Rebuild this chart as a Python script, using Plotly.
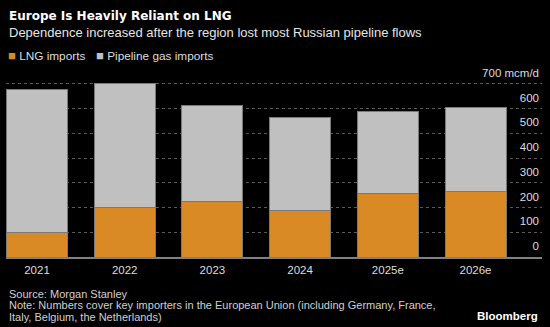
import plotly.graph_objects as go

years = ["2021", "2022", "2023", "2024", "2025e", "2026e"]
lng_imports = [101, 202, 224, 190, 255, 267]
pipeline_imports = [575, 500, 387, 375, 334, 336]
y_tick_values = [0, 100, 200, 300, 400, 500, 600, 700]
y_tick_labels = ["0", "100", "200", "300", "400", "500", "600", "700 mcm/d"]

LNG_COLOR = "#DA8A25"
PIPE_COLOR = "#C0C0C0"
EDGE = "#7a7a7a"
FONT = "Liberation Sans"

W, H = 550, 327
ML, MR, MT, MB = 6, 8, 64, 70
plot_h = H - MT - MB
plot_w = W - ML - MR

def py(px):
    # pixel row -> paper y coordinate
    return (H - MB - px) / plot_h

def pxx(px):
    return (px - ML) / plot_w

fig = go.Figure()
fig.add_trace(go.Bar(x=years, y=lng_imports, name="LNG imports",
                     marker=dict(color=LNG_COLOR, line=dict(color=EDGE, width=1)),
                     showlegend=False))
fig.add_trace(go.Bar(x=years, y=pipeline_imports, name="Pipeline gas imports",
                     marker=dict(color=PIPE_COLOR, line=dict(color=EDGE, width=1)),
                     showlegend=False))

fig.update_layout(
    width=W, height=H,
    barmode="stack", bargap=0.304,
    paper_bgcolor="black", plot_bgcolor="black",
    margin=dict(l=ML, r=MR, t=MT, b=MB),
    font=dict(family=FONT, color="#dddddd", size=11),
    showlegend=False,
    xaxis=dict(type="category", range=[-0.3535, 5.758], showgrid=False,
               showline=True, linecolor="#808080", linewidth=1.5,
               ticks="", tickfont=dict(size=11.5, color="#dddddd"),
               ticklabelstandoff=1, fixedrange=True),
    yaxis=dict(range=[0, plot_h / 0.2472], side="right", tickvals=y_tick_values,
               ticktext=y_tick_labels, ticklabelposition="inside",
               ticklabelshift=-11, ticks="",
               showgrid=True, gridcolor="#5a5a5a", griddash="dot", gridwidth=1,
               zeroline=False, showline=False,
               tickfont=dict(size=11.5, color="#dddddd"), fixedrange=True),
)

ann = [
    dict(text="<b>Europe Is Heavily Reliant on LNG</b>", y=py(16),
         font=dict(family="DejaVu Sans", size=12, color="white")),
    dict(text="Dependence increased after the region lost most Russian pipeline flows",
         y=py(32), font=dict(family=FONT, size=13, color="#e6e6e6")),
    dict(text="Source: Morgan Stanley", y=py(293.5),
         font=dict(family=FONT, size=11, color="#d0d0d0")),
    dict(text="Note: Numbers cover key importers in the European Union (including Germany, France,",
         y=py(305), font=dict(family=FONT, size=11, color="#d0d0d0")),
    dict(text="Italy, Belgium, the Netherlands)", y=py(316.5),
         font=dict(family=FONT, size=11, color="#d0d0d0")),
]
for a in ann:
    fig.add_annotation(xref="paper", yref="paper", x=0, xanchor="left", xshift=1,
                       yanchor="middle", showarrow=False, **a)

# legend (swatch + label)
legend_items = [("LNG imports", LNG_COLOR, 6), ("Pipeline gas imports", PIPE_COLOR, 94)]
for nm, col, lx in legend_items:
    fig.add_annotation(xref="paper", yref="paper", x=pxx(lx), xanchor="left",
                       y=py(55.5), yanchor="middle", showarrow=False,
                       text=f'<span style="color:{col};font-size:13px">■</span> {nm}',
                       font=dict(family=FONT, size=11.8, color="#dddddd"))

fig.add_annotation(xref="paper", yref="paper", x=1, xanchor="right", xshift=-2,
                   y=py(315.5), yanchor="middle", showarrow=False,
                   text="<b>Bloomberg</b>", font=dict(family=FONT, size=11.5, color="white"))

fig.write_html("out.html")
